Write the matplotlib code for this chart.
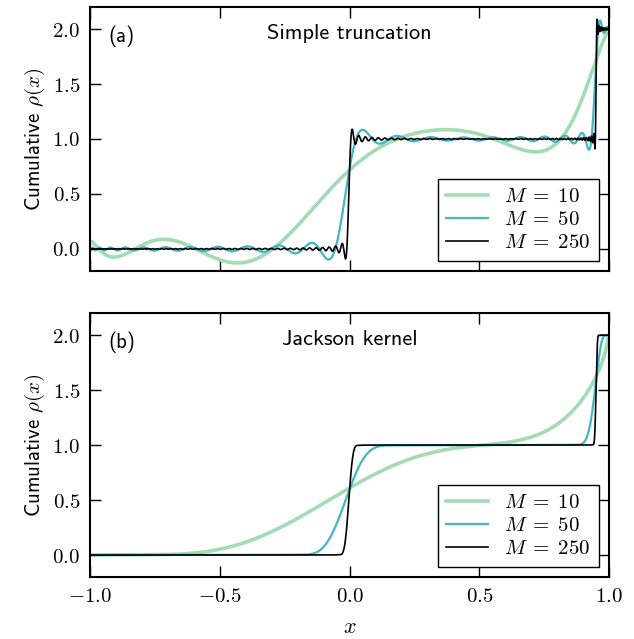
"""Cumulative density from a Chebyshev (KPM) expansion: truncation vs Jackson kernel."""

import numpy as np
import matplotlib
matplotlib.use("Agg")
import matplotlib.pyplot as plt
from matplotlib.ticker import FuncFormatter

# two unit steps in the cumulative density (delta peaks in rho)
step_positions = [0.0, 0.95]
step_weights = [1.0, 1.0]
orders = [10, 50, 250]
labels = [r"$M\;=\;10$", r"$M\;=\;50$", r"$M\;=\;250$"]
colors = ["#a3dbb4", "#41b6c4", "#000000"]
widths = [2.6, 1.6, 1.2]
panel_titles = ["Simple truncation", "Jackson kernel"]
panel_tags = ["(a)", "(b)"]

plt.rcParams["mathtext.fontset"] = "cm"
plt.rcParams["font.family"] = ["cmss10", "DejaVu Sans"]
plt.rcParams["axes.unicode_minus"] = False


def jackson(M):
    n = np.arange(M)
    a = np.pi / (M + 1)
    return ((M - n + 1) * np.cos(a * n) + np.sin(a * n) / np.tan(a)) / (M + 1)


def cumulative(x, M, kernel):
    n = np.arange(M)
    mu = sum(w * np.cos(n * np.arccos(e)) for e, w in zip(step_positions, step_weights))
    g = jackson(M) if kernel else np.ones(M)
    # half-cell offset of the reconstruction grid (N = 2M nodes)
    phi = np.arccos(x) - np.pi / (4 * M)
    phi = np.clip(phi, 0, np.pi)
    out = g[0] * mu[0] * (np.pi - phi) / np.pi
    for k in range(1, M):
        out -= 2 * g[k] * mu[k] * np.sin(k * phi) / (k * np.pi)
    return out


x = np.linspace(-1, 1, 4000)
fmt = FuncFormatter(lambda v, p: r"$%.1f$" % v if v >= 0 else r"$-%.1f$" % abs(v))

fig = plt.figure(figsize=(6.34, 6.39), dpi=100)
ax_a = fig.add_axes([0.142, 0.576, 0.819, 0.413])
ax_b = fig.add_axes([0.142, 0.097, 0.819, 0.413])

for i, ax in enumerate([ax_a, ax_b]):
    for M, lab, c, lw in zip(orders, labels, colors, widths):
        ax.plot(x, cumulative(x, M, kernel=(i == 1)), color=c, lw=lw, label=lab)
    ax.set_xlim(-1, 1)
    ax.set_ylim(-0.2, 2.2)
    ax.set_xticks([-1.0, -0.5, 0.0, 0.5, 1.0])
    ax.set_yticks([0.0, 0.5, 1.0, 1.5, 2.0])
    ax.xaxis.set_major_formatter(fmt)
    ax.yaxis.set_major_formatter(fmt)
    ax.tick_params(direction="in", length=8, width=1, top=True, right=True,
                   labelsize=15, pad=7)
    for s in ax.spines.values():
        s.set_linewidth(1.5)
    ax.set_ylabel(r"Cumulative $\rho(x)$", fontsize=15)
    ax.text(0.035, 0.89, panel_tags[i], transform=ax.transAxes, fontsize=15,
            va="center")
    ax.text(0.5, 0.9, panel_titles[i], transform=ax.transAxes, fontsize=16,
            ha="center", va="center")
    leg = ax.legend(loc="lower right", fontsize=15, fancybox=False,
                    handlelength=2.0, borderaxespad=0.5, labelspacing=0.2)
    leg.get_frame().set_edgecolor("black")
    leg.get_frame().set_alpha(1)

ax_a.tick_params(labelbottom=False)
ax_b.set_xlabel(r"$x$", fontsize=16, labelpad=9)

fig.savefig("out.png", dpi=100)
